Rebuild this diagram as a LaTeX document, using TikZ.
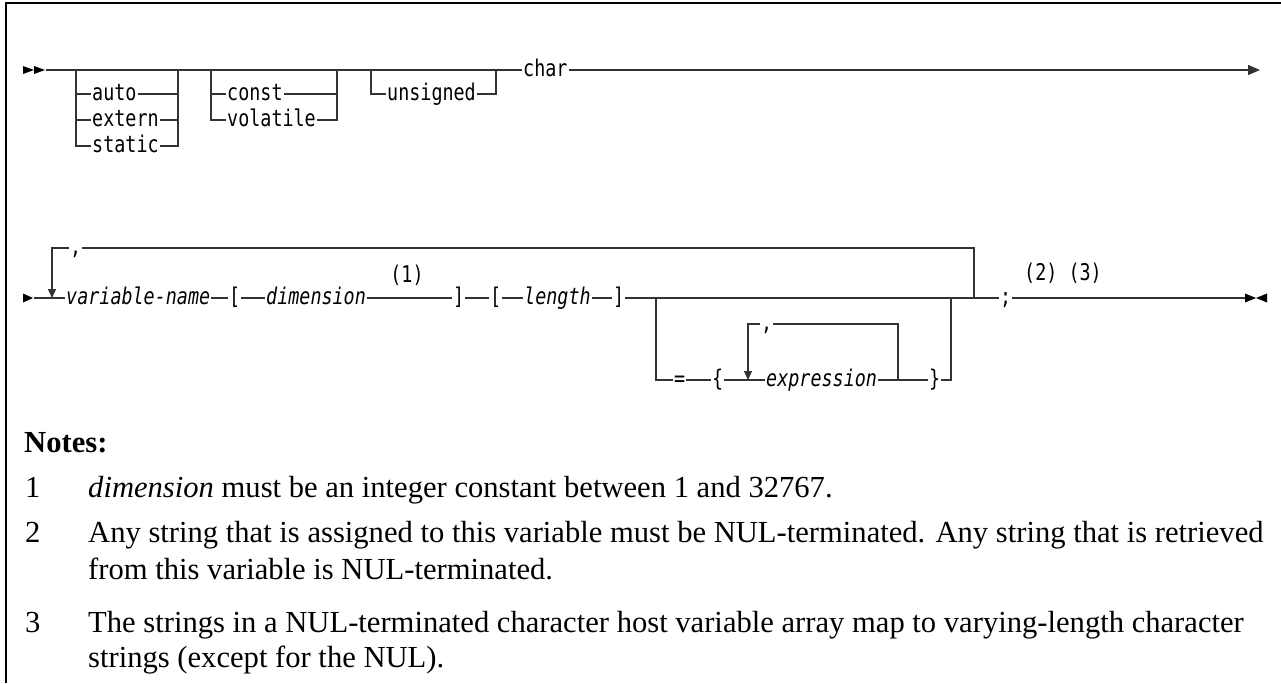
\documentclass[tikz,border=0pt]{standalone}
\usepackage{fontspec}
\setmainfont{Liberation Serif}
\newfontfamily\railfont[FakeStretch=0.8]{DejaVu Sans Mono}
\usetikzlibrary{arrows.meta}

\newcommand\railsize{\fontsize{23}{25}\selectfont}
\newcommand\notesize{\fontsize{30.6}{36}\selectfont}

\begin{document}
\begin{tikzpicture}[
  x=1pt,y=-1pt,
  >={Triangle[length=9pt,width=8pt]},
  tok/.style={font=\railfont\railsize,inner xsep=1pt,inner ysep=0pt,
    text height=12.5pt,text depth=0pt,anchor=west},
  var/.style={tok,font=\railfont\railsize\itshape},
  rail/.style={draw=black!80,line width=1.3pt},
  note/.style={font=\notesize,anchor=base west,inner sep=0pt}]

  \useasboundingbox (0,0) rectangle (1281,683);

  % frame
  \coordinate (fbl) at (6,683);
  \coordinate (ftl) at (6,3);
  \coordinate (ftr) at (1281,3);
  \draw[line width=1.8pt] (fbl) -- (ftl) -- (ftr);

  % first row
  \coordinate (start1) at (46,70);
  \coordinate (end1) at (1260,70);
  \fill (23,66) -- (34,70) -- (23,74) -- cycle (34,66) -- (45,70) -- (34,74) -- cycle;

  \node[tok] (auto) at (91,94) {auto};
  \node[tok] (extern) at (91,120) {extern};
  \node[tok] (static) at (91,146) {static};
  \node[tok] (const) at (226,94) {const};
  \node[tok] (volatile) at (226,120) {volatile};
  \node[tok] (unsigned) at (386,94) {unsigned};
  \node[tok] (char) at (522,70) {char};

  \coordinate (b1l) at (76,70);  \coordinate (b1r) at (178,70);
  \coordinate (b2l) at (211,70); \coordinate (b2r) at (337,70);
  \coordinate (b3l) at (371,70); \coordinate (b3r) at (496,70);

  \draw[rail] (start1) -- (char.west);
  \draw[rail,-{Triangle[length=12pt,width=10pt]}] (char.east) -- (end1);

  \draw[rail] (b1l) |- (static.west) (static.east) -| (b1r);
  \foreach \k in {auto,extern}
    \draw[rail] (b1l |- \k.west) -- (\k.west) (\k.east) -- (\k.east -| b1r);
  \draw[rail] (b2l) |- (volatile.west) (volatile.east) -| (b2r);
  \draw[rail] (b2l |- const.west) -- (const.west) (const.east) -- (const.east -| b2r);
  \draw[rail] (b3l) |- (unsigned.west) (unsigned.east) -| (b3r);

  % second row
  \coordinate (start2) at (34,298);
  \coordinate (end2) at (1245,298);
  \fill (23,293.5) -- (33,298) -- (23,302.5) -- cycle;
  \fill (1245,293.5) -- (1256,298) -- (1245,302.5) -- cycle
        (1267,293.5) -- (1256,298) -- (1267,302.5) -- cycle;

  \node[var] (varname) at (65,298) {variable-name};
  \node[tok] (lb1) at (228,298) {[};
  \node[var] (dim) at (265,298) {dimension};
  \node[tok] (rb1) at (452,298) {]};
  \node[tok] (lb2) at (489,298) {[};
  \node[var] (len) at (523,298) {length};
  \node[tok] (rb2) at (612,298) {]};
  \node[tok] (semi) at (999,298) {;};

  \draw[rail] (start2) -- (varname.west) (varname.east) -- (lb1.west)
    (lb1.east) -- (dim.west) (dim.east) -- (rb1.west)
    (rb1.east) -- (lb2.west) (lb2.east) -- (len.west)
    (len.east) -- (rb2.west) (rb2.east) -- (semi.west)
    (semi.east) -- (end2);

  % repeat loop round the whole declarator
  \coordinate (rep1) at (52,248);
  \coordinate (rep2) at (974,298);
  \node[tok] (comma1) at (69,248) {,};
  \draw[rail,->] (comma1.west) -- (rep1) -- (rep1 |- start2);
  \draw[rail] (comma1.east) -| (rep2);

  % optional initialiser
  \coordinate (opt1) at (656,298);
  \coordinate (opt2) at (951,298);
  \node[tok] (eq) at (673,380) {=};
  \node[tok] (lbr) at (711,380) {\{};
  \node[var] (expr) at (765,380) {expression};
  \node[tok] (rbr) at (928,380) {\}};
  \draw[rail] (opt1) |- (eq.west) (eq.east) -- (lbr.west)
    (lbr.east) -- (expr.west) (expr.east) -- (rbr.west)
    (rbr.east) -| (opt2);

  \coordinate (rep3) at (748,324);
  \coordinate (rep4) at (898,380);
  \node[tok] (comma2) at (760,324) {,};
  \draw[rail,->] (comma2.west) -- (rep3) -- (rep3 |- expr.west);
  \draw[rail] (comma2.east) -| (rep4);

  % note references
  \node[tok,anchor=center] (ref1) at (407,276) {(1)};
  \node[tok,anchor=center] (ref23) at (1063,274) {(2) (3)};

  % notes
  \node[note,font=\notesize\bfseries] (notes) at (24,452) {Notes:};
  \node[note] (num1) at (25,497) {1};
  \node[note] (txt1) at (88,497)
    {\textit{dimension} must be an integer constant between 1 and 32767.};
  \node[note] (num2) at (25,542) {2};
  \node[note] (txt2a) at (88,542)
    {Any string that is assigned to this variable must be NUL-terminated. Any string that is retrieved};
  \node[note] (txt2b) at (88,579) {from this variable is NUL-terminated.};
  \node[note] (num3) at (25,632) {3};
  \node[note] (txt3a) at (88,632)
    {The strings in a NUL-terminated character host variable array map to varying-length character};
  \node[note] (txt3b) at (88,667) {strings (except for the NUL).};
\end{tikzpicture}
\end{document}
